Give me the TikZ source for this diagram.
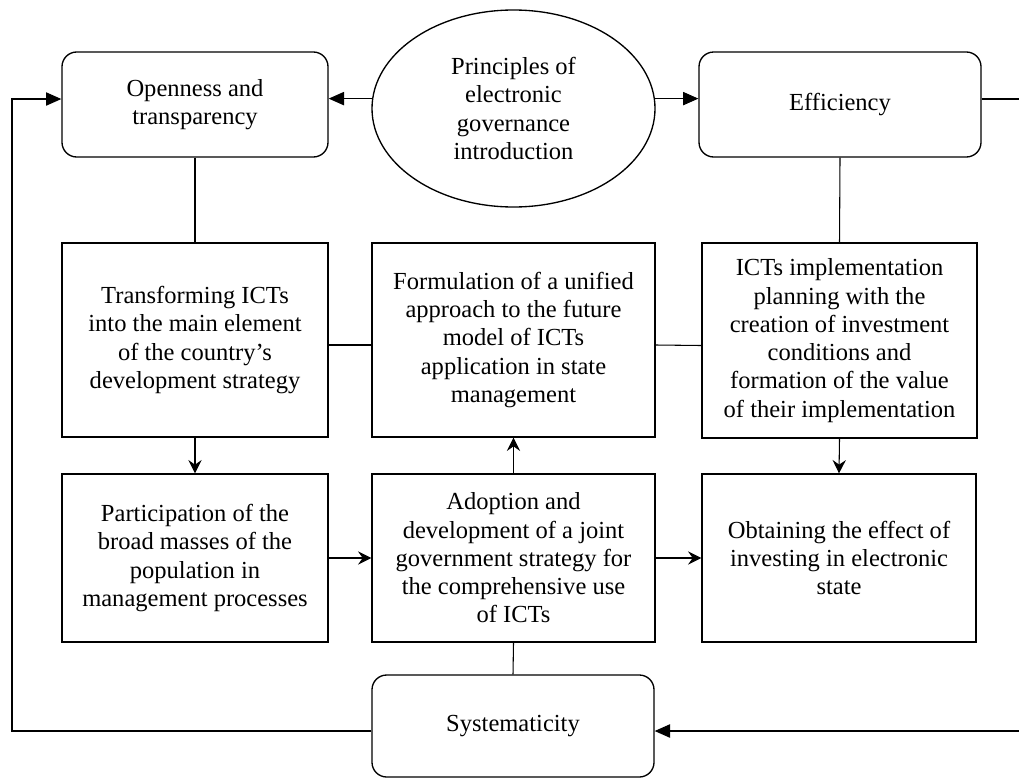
\documentclass[tikz,border=0pt]{standalone}
\usepackage{fontspec}
\setmainfont{Liberation Serif}
\usetikzlibrary{arrows.meta,shapes.geometric}

\begin{document}
\begin{tikzpicture}[x=0.75pt,y=-0.75pt,
	font=\fontsize{18.4}{21.2}\selectfont,
	box/.style={draw, line width=1pt, align=center, inner sep=2pt},
	rbox/.style={box, rounded corners=11pt},
	oval/.style={draw, ellipse, line width=1pt, align=center, inner sep=0pt},
	link/.style={line width=0.8pt},
	tri/.style={link, -{Triangle[length=11.5pt,width=10pt]}},
	vee/.style={link, -{Stealth[length=10pt,width=10pt,inset=3.5pt]}}]
			\useasboundingbox (0,0) rectangle (1019,778);
			%Principles
			\node[rbox, minimum width=199.5pt, minimum height=78.75pt] (open) at (195,104.5) {Openness and\\transparency};
			\node[oval, minimum width=212.25pt, minimum height=147.75pt] (princ) at (513.5,108.5) {Principles of\\electronic\\governance\\introduction};
			\node[rbox, minimum width=211.5pt, minimum height=78.75pt] (eff) at (840,104.5) {Efficiency};
			\node[rbox, minimum width=211.5pt, minimum height=76.5pt] (syst) at (513,726) {Systematicity};
			%Middle row
			\node[box, minimum width=199.5pt, minimum height=145.5pt] (transf) at (195,340) {Transforming ICTs\\into the main element\\of the country’s\\development strategy};
			\node[box, minimum width=212.25pt, minimum height=145.5pt] (formul) at (513.5,340) {Formulation of a unified\\approach to the future\\model of ICTs\\application in state\\management};
			\node[box, minimum width=206.25pt, minimum height=146.25pt] (plan) at (839.5,340.5) {ICTs implementation\\planning with the\\creation of investment\\conditions and\\formation of the value\\of their implementation};
			%Bottom row
			\node[box, minimum width=199.5pt, minimum height=126pt] (partic) at (195,558) {Participation of the\\broad masses of the\\population in\\management processes};
			\node[box, minimum width=212.25pt, minimum height=126pt] (adopt) at (513.5,558) {Adoption and\\development of a joint\\government strategy for\\the comprehensive use\\of ICTs};
			\node[box, minimum width=205.5pt, minimum height=126pt] (obtain) at (839,558) {Obtaining the effect of\\investing in electronic\\state};
			%Outer loop
			\coordinate (rtop) at (1019,99);
			\coordinate (rbot) at (1019,731);
			\coordinate (ltop) at (12,99);
			\coordinate (lbot) at (12,731);
			\draw[tri] (princ.176) -- (princ.176 -| open.east);
			\draw[tri] (princ.4) -- (princ.4 -| eff.west);
			\draw[link] (rtop -| eff.east) -- (rtop);
			\draw[tri] (rbot) -- (rbot -| syst.east);
			\draw[tri] (lbot -| syst.west) -- (lbot) -- (ltop) -- (ltop -| open.west);
			%Links
			\draw[link] (open.south) -- (transf.north);
			\draw[link] (eff.south) -- (plan.north);
			\draw[link] ([yshift=-3.75pt]transf.east) -- ([yshift=-3.75pt]formul.west);
			\draw[link] ([yshift=-3.75pt]formul.east) -- ([yshift=-3.75pt]plan.west);
			\draw[link] (adopt.south) -- (syst.north);
			\draw[vee] (transf.south) -- (partic.north);
			\draw[vee] (plan.south) -- (obtain.north);
			\draw[vee] (adopt.north) -- (formul.south);
			\draw[vee] (partic.east) -- (adopt.west);
			\draw[vee] (adopt.east) -- (obtain.west);
\end{tikzpicture}
\end{document}
